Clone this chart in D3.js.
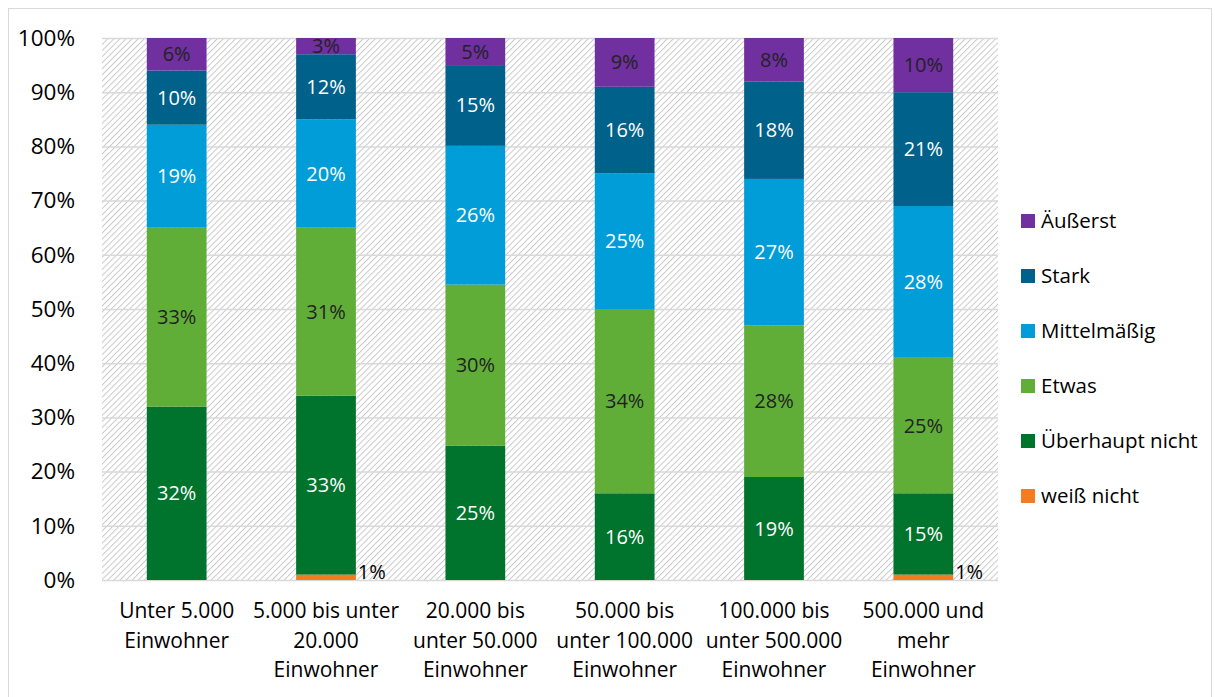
<!DOCTYPE html>
<html>
<head>
<meta charset="utf-8">
<script src="https://cdn.jsdelivr.net/npm/d3@7"></script>
<style>
  body { margin: 0; background: #fff; }
  text { font-family: "Open Sans", "Noto Sans", sans-serif; }
</style>
</head>
<body>
<div id="chart"></div>
<script>
// categories (x axis), line breaks as in the original
var categories = [
  'Unter 5.000\nEinwohner',
  '5.000 bis unter\n20.000\nEinwohner',
  '20.000 bis\nunter 50.000\nEinwohner',
  '50.000 bis\nunter 100.000\nEinwohner',
  '100.000 bis\nunter 500.000\nEinwohner',
  '500.000 und\nmehr\nEinwohner'
];

// series, bottom to top
var seriesNames = ['weiß nicht', 'Überhaupt nicht', 'Etwas', 'Mittelmäßig', 'Stark', 'Äußerst'];
var weissNicht   = [0, 1, 0, 0, 0, 1];
var ueberhaupt   = [32, 33, 24.8, 16, 19, 15];
var etwas        = [33, 31, 29.7, 34, 28, 25];
var mittelmaessig = [19, 20, 25.6, 25, 27, 28];
var stark        = [10, 12, 14.9, 16, 18, 21];
var aeusserst    = [6, 3, 5, 9, 8, 10];

var yTicks = [0, 10, 20, 30, 40, 50, 60, 70, 80, 90, 100];

var colors = ['#f47b20', '#00732d', '#60ae38', '#009dd9', '#00618a', '#7030a0'];
var labelColors = ['#000', '#fff', '#222', '#fff', '#fff', '#222'];

var W = 1215, H = 697;
var margin = {left: 102, right: 217, top: 38, bottom: 117};

var svg = d3.select('#chart').append('svg')
    .attr('width', W)
    .attr('height', H);

// outer frame
svg.append('rect')
    .attr('x', 8.5).attr('y', 8.5)
    .attr('width', W - 12).attr('height', H)
    .attr('fill', '#fff')
    .attr('stroke', '#d9d9d9');

var defs = svg.append('defs');
var pat = defs.append('pattern')
    .attr('id', 'hatch')
    .attr('patternUnits', 'userSpaceOnUse')
    .attr('width', 4.3).attr('height', 4.3)
    .attr('patternTransform', 'rotate(45)');
pat.append('rect').attr('width', 4.3).attr('height', 4.3).attr('fill', '#fff');
pat.append('line')
    .attr('x1', 0.5).attr('y1', 0).attr('x2', 0.5).attr('y2', 4.3)
    .attr('stroke', '#c4c4c4').attr('stroke-width', 0.9);

var x = d3.scaleBand()
    .domain(d3.range(categories.length))
    .range([margin.left, W - margin.right])
    .paddingInner(0.6)
    .paddingOuter(0.3);

var y = d3.scaleLinear()
    .domain([0, 100])
    .range([H - margin.bottom, margin.top]);

// plot area with hatch
svg.append('rect')
    .attr('x', margin.left).attr('y', margin.top)
    .attr('width', W - margin.right - margin.left)
    .attr('height', y(0) - y(100))
    .attr('fill', 'url(#hatch)');

// gridlines
svg.append('g')
  .selectAll('line')
  .data(yTicks)
  .enter().append('line')
    .attr('x1', margin.left).attr('x2', W - margin.right)
    .attr('y1', (d) => y(d) + 0.5).attr('y2', (d) => y(d) + 0.5)
    .attr('stroke', '#d9d9d9')
    .attr('stroke-width', 1.5);

// y axis labels
var yAxis = svg.append('g')
    .attr('transform', 'translate(' + (margin.left - 24) + ',0)')
    .call(d3.axisLeft(y).tickValues(yTicks).tickSize(0).tickFormat((d) => d + '%'));
yAxis.select('.domain').remove();
yAxis.selectAll('text')
    .attr('font-size', 22.5)
    .attr('fill', '#000')
    .attr('font-family', '"Open Sans", sans-serif');

var table = categories.map(function(c, i) {
  return {
    i: i,
    'weiß nicht': weissNicht[i],
    'Überhaupt nicht': ueberhaupt[i],
    'Etwas': etwas[i],
    'Mittelmäßig': mittelmaessig[i],
    'Stark': stark[i],
    'Äußerst': aeusserst[i]
  };
});

var stacked = d3.stack().keys(seriesNames)(table);

stacked.forEach(function(layer, li) {
  var g = svg.append('g');
  g.selectAll('rect')
    .data(layer.filter((d) => d[1] - d[0] > 0))
    .enter().append('rect')
      .attr('x', (d) => x(d.data.i))
      .attr('width', x.bandwidth())
      .attr('y', (d) => y(Math.min(d[1], 100)))
      .attr('height', (d) => y(d[0]) - y(Math.min(d[1], 100)))
      .attr('fill', colors[li]);

  g.selectAll('text')
    .data(layer.filter((d) => d[1] - d[0] > 0))
    .enter().append('text')
      .text((d) => Math.round(d[1] - d[0]) + '%')
      .attr('x', (d) => li === 0 ? x(d.data.i) + x.bandwidth() + 2 : x(d.data.i) + x.bandwidth() / 2)
      .attr('y', function(d) {
        if (li === 0) return y(d[1]) - 3;
        var top = Math.min(d[1], 100);
        return (y(d[0]) + y(top)) / 2;
      })
      .attr('dy', '0.35em')
      .attr('text-anchor', li === 0 ? 'start' : 'middle')
      .attr('font-size', 20)
      .attr('fill', labelColors[li]);
});

// x labels
var xl = svg.append('g');
categories.forEach(function(c, i) {
  var t = xl.append('text')
      .attr('x', x(i) + x.bandwidth() / 2)
      .attr('y', 618)
      .attr('text-anchor', 'middle')
      .attr('font-size', 21)
      .attr('fill', '#000');
  c.split('\n').forEach(function(line, k) {
    t.append('tspan')
      .attr('x', x(i) + x.bandwidth() / 2)
      .attr('dy', k === 0 ? 0 : 29.5)
      .text(line);
  });
});

// legend, top to bottom
var legendItems = seriesNames.map((n, i) => ({name: n, color: colors[i]})).reverse();
var legend = svg.append('g');
var lg = legend.selectAll('g')
  .data(legendItems)
  .enter().append('g')
    .attr('transform', (d, i) => 'translate(1021,' + (221 + i * 55) + ')');
lg.append('rect')
    .attr('x', 0).attr('y', -7)
    .attr('width', 14).attr('height', 14)
    .attr('fill', (d) => d.color);
lg.append('text')
    .attr('x', 20).attr('y', 0)
    .attr('dy', '0.35em')
    .attr('font-size', 20.5)
    .attr('fill', '#000')
    .text((d) => d.name);
</script>
</body>
</html>
